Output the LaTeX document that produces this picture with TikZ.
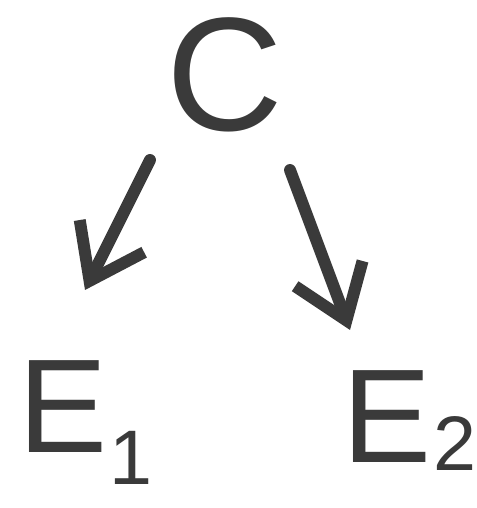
\documentclass[tikz,border=0pt]{standalone}
\usepackage{fontspec}
\setmainfont{Liberation Sans}
\usetikzlibrary{arrows.meta,positioning}
\definecolor{ink}{HTML}{3A3A3A}
\newcommand{\lowsub}[2]{\kern0.5pt{\fontsize{22}{22}\selectfont\raisebox{#1}{#2}}}

\begin{document}
\begin{tikzpicture}[
    letter/.style={text=ink, font=\fontsize{46}{50}\selectfont, inner sep=0pt},
    effect/.style={text=ink, font=\fontsize{38}{42}\selectfont, inner sep=0pt, anchor=base west},
    arrow/.style={-{Straight Barb[length=0.5cm, width=0.72cm, line width=3.4pt]}, line width=3.4pt, draw=ink, line cap=round}
]
\useasboundingbox (0,0) rectangle (4.77,5.08);

% Nodes
\node[letter] (cause) at (2.25,4.33) {C};
\node[effect] (effect1) at (0.18,0.55) {E\lowsub{-9pt}{1}};
\node[effect] (effect2) at (3.42,0.45) {E\lowsub{-2pt}{2}};

% Edges
\draw[arrow] ([shift={(-0.75,-0.85)}]cause.center) -- ([shift={(0.67,1.63)}]effect1.base west);
\draw[arrow] ([shift={(0.65,-0.95)}]cause.center) -- ([shift={(0.08,1.33)}]effect2.base west);

\end{tikzpicture}
\end{document}
